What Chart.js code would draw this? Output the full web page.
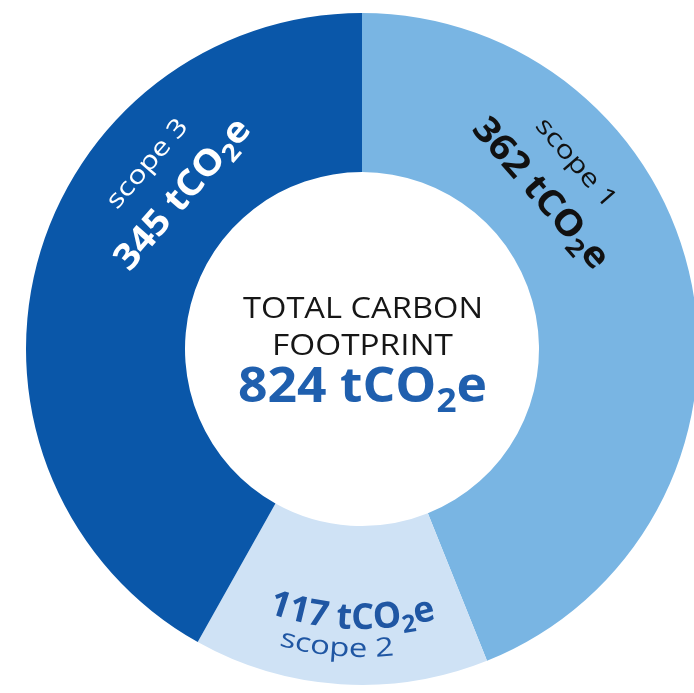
<!DOCTYPE html>
<html>
<head>
<meta charset="utf-8">
<script src="https://cdn.jsdelivr.net/npm/chart.js@4"></script>
<style>
  html, body { margin: 0; padding: 0; background: #ffffff; overflow: hidden; width: 694px; height: 693px; }
  #wrap { position: absolute; left: 0; top: 0; width: 724px; height: 698px; }
</style>
</head>
<body>
<div id="wrap"><canvas id="c"></canvas></div>
<script>
// ---- data ----
const categories = ['scope 1', 'scope 2', 'scope 3'];
const values = [362, 117, 345];
const unit = 'tCO₂e';
const centerTitle = ['TOTAL CARBON', 'FOOTPRINT'];

// ---- styles ----
const segColors = ['#79b5e3', '#cfe2f5', '#0a57a9'];
const labelColors = ['#111111', '#1f56a3', '#ffffff'];
const FAMILY = "'Open Sans', sans-serif";

// ---- label layout (fraction along each arc, radii, sizes) ----
const labelLayout = [
  { mode: 'straight', valFrac: 0.3097, labFrac: 0.3097, valR: 226, labR: 276, valSize: 36, valW: 188, labSize: 25, labW: 110 },
  { mode: 'curved',   valFrac: 0.47,   labFrac: 0.5215, valR: 280, labR: 308, valSize: 36, valW: 172, labSize: 26, labW: 117 },
  { mode: 'straight', valFrac: 0.6735, labFrac: 0.6735, valR: 226, labR: 276, valSize: 36, valW: 188, labSize: 25, labW: 110 }
];

function makeRuns(ctx, text, size, weight) {
  const rs = Array.from(text).map(ch => ch === '₂' ? { ch: '2', sub: true } : { ch: ch, sub: false });
  let x = 0;
  rs.forEach(r => {
    ctx.font = `${weight} ${r.sub ? size * 0.68 : size}px ${FAMILY}`;
    r.w = ctx.measureText(r.ch).width;
    r.x = x;
    x += r.w;
  });
  return { rs, W: x };
}

function drawStraight(ctx, text, ax, ay, rot, size, weight, color, targetW) {
  const { rs, W } = makeRuns(ctx, text, size, weight);
  const sx = targetW ? targetW / W : 1;
  ctx.save();
  ctx.translate(ax, ay);
  ctx.rotate(rot);
  ctx.scale(sx, 1);
  ctx.fillStyle = color;
  ctx.textAlign = 'left';
  ctx.textBaseline = 'alphabetic';
  rs.forEach(r => {
    ctx.font = `${weight} ${r.sub ? size * 0.68 : size}px ${FAMILY}`;
    ctx.fillText(r.ch, r.x - W / 2, r.sub ? size * 0.2 : 0);
  });
  ctx.restore();
}

function drawCurvedBottom(ctx, text, cx, cy, rb, thetaC, size, weight, color, targetW) {
  const { rs, W } = makeRuns(ctx, text, size, weight);
  const sx = targetW ? targetW / W : 1;
  ctx.fillStyle = color;
  ctx.textAlign = 'left';
  ctx.textBaseline = 'alphabetic';
  rs.forEach(r => {
    const s = (r.x + r.w / 2 - W / 2) * sx;
    const th = thetaC - s / rb;
    ctx.save();
    ctx.translate(cx + rb * Math.cos(th), cy + rb * Math.sin(th));
    ctx.rotate(th - Math.PI / 2);
    ctx.scale(sx, 1);
    ctx.font = `${weight} ${r.sub ? size * 0.68 : size}px ${FAMILY}`;
    ctx.fillText(r.ch, -r.w / 2, r.sub ? size * 0.2 : 0);
    ctx.restore();
  });
}

const labelPlugin = {
  id: 'labelPlugin',
  afterDraw(chart) {
    const ctx = chart.ctx;
    const arcs = chart.getDatasetMeta(0).data;
    const cx = arcs[0].x, cy = arcs[0].y;
    arcs.forEach((arc, i) => {
      const L = labelLayout[i];
      const a0 = arc.startAngle, a1 = arc.endAngle;
      const tv = a0 + L.valFrac * (a1 - a0);
      const tl = a0 + L.labFrac * (a1 - a0);
      const valText = `${values[i]} ${unit}`;
      const labText = categories[i];
      if (L.mode === 'straight') {
        drawStraight(ctx, valText, cx + L.valR * Math.cos(tv), cy + L.valR * Math.sin(tv), tv + Math.PI / 2, L.valSize, 700, labelColors[i], L.valW);
        drawStraight(ctx, labText, cx + L.labR * Math.cos(tl), cy + L.labR * Math.sin(tl), tl + Math.PI / 2, L.labSize, 400, labelColors[i], L.labW);
      } else {
        drawCurvedBottom(ctx, valText, cx, cy, L.valR, tv, L.valSize, 700, labelColors[i], L.valW);
        drawCurvedBottom(ctx, labText, cx, cy, L.labR, tl, L.labSize, 400, labelColors[i], L.labW);
      }
    });
    // center text
    const total = values.reduce((a, b) => a + b, 0);
    drawStraight(ctx, centerTitle[0], cx + 1, cy - 31, 0, 29, 500, '#161616', 240);
    drawStraight(ctx, centerTitle[1], cx + 0.5, cy + 6, 0, 29, 500, '#161616', 181);
    drawStraight(ctx, `${total} ${unit}`, cx + 0.5, cy + 53, 0, 49, 700, '#1f5fae', 249);
  }
};

new Chart(document.getElementById('c'), {
  type: 'doughnut',
  data: {
    labels: categories,
    datasets: [{
      data: values,
      backgroundColor: segColors,
      borderWidth: 0,
      hoverOffset: 0
    }]
  },
  options: {
    responsive: true,
    maintainAspectRatio: false,
    animation: false,
    cutout: 177,
    layout: { padding: { top: 13, bottom: 13, left: 0, right: 0 } },
    plugins: { legend: { display: false }, tooltip: { enabled: false } }
  },
  plugins: [labelPlugin]
});
</script>
</body>
</html>
